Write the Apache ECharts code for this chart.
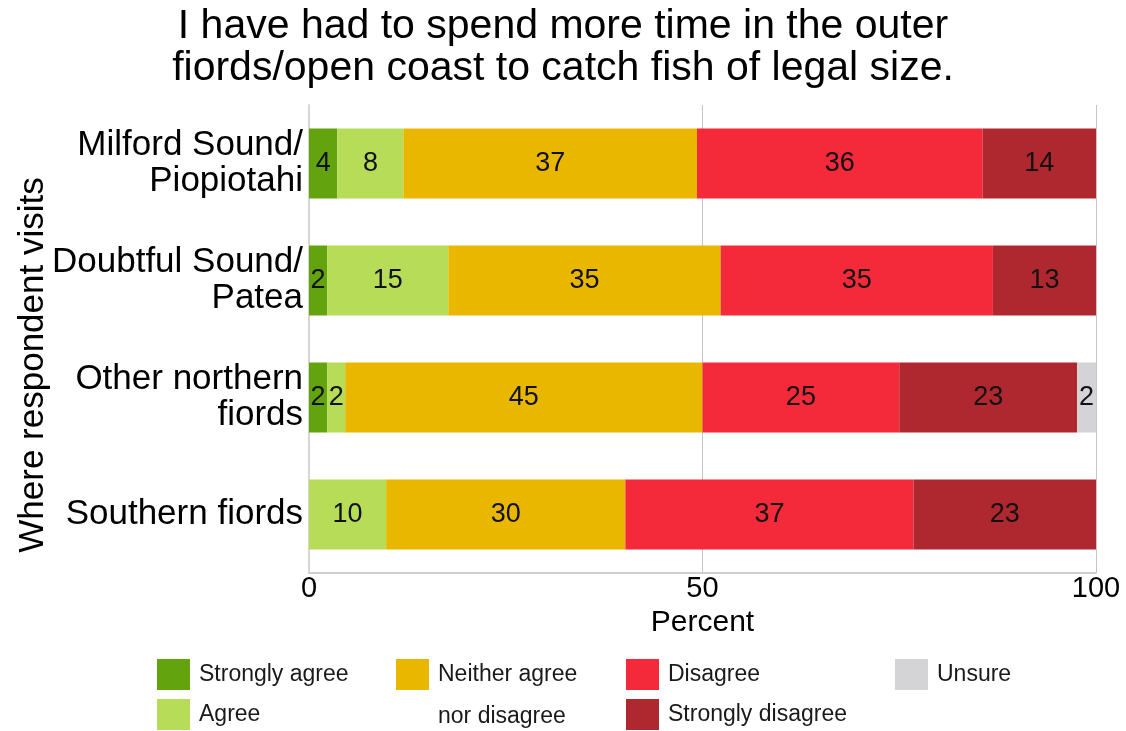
<!DOCTYPE html>
<html>
<head>
<meta charset="utf-8">
<script src="https://cdn.jsdelivr.net/npm/echarts@6/dist/echarts.min.js"></script>
<style>html,body{margin:0;padding:0;background:#fff;}#chart{width:1126px;height:731px;}</style>
</head>
<body>
<div id="chart"></div>
<script>
var titleText = 'I have had to spend more time in the outer\nfiords/open coast to catch fish of legal size.';
var categories = ['Milford Sound/\nPiopiotahi', 'Doubtful Sound/\nPatea', 'Other northern\nfiords', 'Southern fiords'];
var stronglyAgree = [3.6, 2.3, 2.3, null];
var agree = [8.4, 15.4, 2.3, 9.8];
var neither = [37.3, 34.6, 45.4, 30.4];
var disagree = [36.3, 34.6, 25.0, 36.6];
var stronglyDisagree = [14.4, 13.1, 22.6, 23.2];
var unsure = [null, null, 2.4, null];
var xTicks = [0, 50, 100];

var FONT = '"Liberation Sans", Arial, sans-serif';
var seriesDefs = [
  {name: 'Strongly agree', data: stronglyAgree, color: '#63a30e'},
  {name: 'Agree', data: agree, color: '#b6dc58'},
  {name: 'Neither agree nor disagree', data: neither, color: '#e9b700'},
  {name: 'Disagree', data: disagree, color: '#f42a3a'},
  {name: 'Strongly disagree', data: stronglyDisagree, color: '#b0282f'},
  {name: 'Unsure', data: unsure, color: '#d4d4d6'}
];

var chart = echarts.init(document.getElementById('chart'));
var legendBase = {
  orient: 'vertical', top: 659, itemWidth: 33, itemHeight: 31, itemGap: 9, padding: 0,
  icon: 'rect', selectedMode: false,
  textStyle: {fontSize: 23, fontFamily: FONT, color: '#1a1a1a', padding: [3, 0, 0, 4]}
};
chart.setOption({
  animation: false,
  backgroundColor: '#ffffff',
  title: {
    text: titleText, left: 'center', top: 1,
    textStyle: {fontSize: 41, fontWeight: 'normal', fontFamily: FONT, color: '#000', lineHeight: 42}
  },
  grid: {left: 309, right: 30, top: 105, height: 468},
  xAxis: {
    type: 'value', min: 0, max: 100, interval: 50,
    name: 'Percent', nameLocation: 'middle', nameGap: 22,
    nameTextStyle: {fontSize: 30, fontFamily: FONT, color: '#000'},
    axisLine: {show: true, lineStyle: {color: '#cfcfcf', width: 2}},
    axisTick: {show: false},
    axisLabel: {fontSize: 29, fontFamily: FONT, color: '#000', margin: 1,
      formatter: function (v) { return xTicks.indexOf(v) >= 0 ? String(v) : ''; }},
    splitLine: {show: true, lineStyle: {color: '#c4c4c4', width: 1}}
  },
  yAxis: {
    type: 'category', data: categories, inverse: true,
    axisLine: {show: true, lineStyle: {color: '#d6d6d6', width: 2}},
    axisTick: {show: false},
    axisLabel: {fontSize: 35, fontFamily: FONT, color: '#000', margin: 6, lineHeight: 36, align: 'right', padding: [0, 0, 10, 0]}
  },
  legend: [
    Object.assign({}, legendBase, {left: 157, data: ['Strongly agree', 'Agree']}),
    Object.assign({}, legendBase, {left: 396, data: ['Neither agree nor disagree'],
      formatter: function () { return 'Neither agree'; }}),
    Object.assign({}, legendBase, {left: 626, data: ['Disagree', 'Strongly disagree']}),
    Object.assign({}, legendBase, {left: 895, data: ['Unsure']})
  ],
  graphic: [{
    type: 'text', x: 33, y: 365, rotation: Math.PI / 2,
    style: {text: 'Where respondent visits', fontSize: 35, fontFamily: FONT, fill: '#000', align: 'center', verticalAlign: 'middle'}
  }, {
    type: 'text', x: 438, y: 717,
    style: {text: 'nor disagree', fontSize: 23, fontFamily: FONT, fill: '#1a1a1a', align: 'left', verticalAlign: 'middle'}
  }],
  series: seriesDefs.map(function (s) {
    return {
      type: 'bar', name: s.name, stack: 'total', data: s.data, barWidth: 70,
      itemStyle: {color: s.color},
      label: {
        show: true, position: 'inside', fontSize: 27, fontFamily: FONT, color: '#111',
        formatter: function (p) { return (p.value == null || p.value === 0) ? '' : String(Math.round(p.value)); }
      }
    };
  })
});
</script>
</body>
</html>
